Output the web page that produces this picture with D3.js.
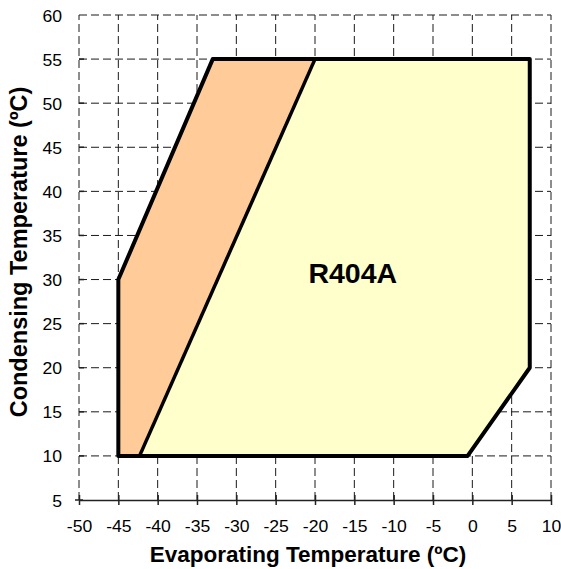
<!DOCTYPE html>
<html>
<head>
<meta charset="utf-8">
<script src="https://cdn.jsdelivr.net/npm/d3@7"></script>
<style>
  html, body { margin: 0; padding: 0; background: #fff; }
  svg { display: block; font-family: Arial, "Liberation Sans", sans-serif; }
</style>
</head>
<body>
<svg id="chart" width="561" height="569"></svg>
<script>
// Operating envelope of R404A (evaporating vs condensing temperature, °C)
const xTicks = [-50, -45, -40, -35, -30, -25, -20, -15, -10, -5, 0, 5, 10];
const yTicks = [5, 10, 15, 20, 25, 30, 35, 40, 45, 50, 55, 60];

// Extended low-temperature zone (orange)
const lowZoneEvap = [-45, -45, -33, -20, -42.3];
const lowZoneCond = [10, 30, 55, 55, 10];

// Standard zone (yellow)
const mainZoneEvap = [-42.3, -20, 7.3, 7.3, -0.6];
const mainZoneCond = [10, 55, 55, 20, 10];

// Overall envelope outline
const outlineEvap = [-45, -45, -33, 7.3, 7.3, -0.6];
const outlineCond = [10, 30, 55, 55, 20, 10];

// Divider between the two zones
const dividerEvap = [-20, -42.3];
const dividerCond = [55, 10];

const refrigerant = "R404A";

const svg = d3.select("#chart");
const margin = { left: 79, right: 10, top: 15, bottom: 69 };
const W = 561, H = 569;

const x = d3.scaleLinear().domain([-50, 10]).range([margin.left, W - margin.right]);
const y = d3.scaleLinear().domain([5, 60]).range([H - margin.bottom, margin.top]);

const pts = (xs, ys) => xs.map((v, i) => [x(v), y(ys[i])]);
const line = d3.line();
const fmt = d => String(d);   // plain hyphen for negatives
const tickFont = 16, tickStretch = 1.1;

// Dashed grid
const grid = svg.append("g").attr("stroke", "#1a1a1a").attr("stroke-width", 1)
  .attr("stroke-dasharray", "8,4").attr("fill", "none");
xTicks.forEach(t => {
  grid.append("line").attr("x1", x(t)).attr("x2", x(t))
    .attr("y1", y(5)).attr("y2", y(60));
});
yTicks.filter(t => t > 5).forEach(t => {
  grid.append("line").attr("x1", x(-50)).attr("x2", x(10))
    .attr("y1", y(t)).attr("y2", y(t));
});

// Zones
svg.append("path").attr("d", line(pts(lowZoneEvap, lowZoneCond)) + "Z")
  .attr("fill", "#FFCC99").attr("stroke", "none");
svg.append("path").attr("d", line(pts(mainZoneEvap, mainZoneCond)) + "Z")
  .attr("fill", "#FFFFCC").attr("stroke", "none");

svg.append("path").attr("d", line(pts(dividerEvap, dividerCond)))
  .attr("fill", "none").attr("stroke", "#000").attr("stroke-width", 3.5);
svg.append("path").attr("d", line(pts(outlineEvap, outlineCond)) + "Z")
  .attr("fill", "none").attr("stroke", "#000").attr("stroke-width", 4)
  .attr("stroke-linejoin", "round");

// X axis
const xAxis = svg.append("g").attr("transform", `translate(0,${y(5)})`)
  .call(d3.axisBottom(x).tickValues(xTicks).tickFormat(fmt).tickSize(5).tickSizeOuter(0));
xAxis.select(".domain").attr("stroke", "#222").attr("stroke-width", 1.5);
xAxis.selectAll(".tick line").attr("y1", -5).attr("stroke", "#222").attr("stroke-width", 1.5);
xAxis.selectAll("text")
  .attr("font-size", tickFont).attr("fill", "#000")
  .attr("font-family", "Arial, 'Liberation Sans', sans-serif")
  .attr("dy", null).attr("y", null)
  .attr("transform", `translate(0,32) scale(${tickStretch},1)`);

// Y axis (labels plus short ticks)
const yAxis = svg.append("g").attr("transform", `translate(${x(-50)},0)`)
  .call(d3.axisLeft(y).tickValues(yTicks).tickFormat(fmt).tickSize(0));
yAxis.select(".domain").remove();
yAxis.selectAll("text")
  .attr("font-size", tickFont).attr("fill", "#000")
  .attr("font-family", "Arial, 'Liberation Sans', sans-serif")
  .attr("x", null).attr("dy", null)
  .attr("transform", `translate(-17,6) scale(${tickStretch},1)`);
yTicks.filter(t => t > 5 && t < 60).forEach(t => {
  svg.append("line").attr("x1", x(-50)).attr("x2", x(-50) + 5)
    .attr("y1", y(t)).attr("y2", y(t)).attr("stroke", "#222").attr("stroke-width", 1.5);
});
svg.append("line").attr("x1", x(-50) - 4).attr("x2", x(-50) + 4)
  .attr("y1", y(5)).attr("y2", y(5)).attr("stroke", "#222").attr("stroke-width", 1.5);

// Zone label
svg.append("text").attr("x", x(-15.2)).attr("y", y(29.6))
  .attr("text-anchor", "middle")
  .attr("font-size", 28.5).attr("font-weight", "bold").text(refrigerant);

// Axis titles
svg.append("text").attr("x", 308).attr("y", 562)
  .attr("text-anchor", "middle").attr("font-size", 22.5).attr("font-weight", "bold")
  .text("Evaporating Temperature (ºC)");
svg.append("text").attr("transform", `translate(27,252) rotate(-90)`)
  .attr("text-anchor", "middle").attr("font-size", 23.5).attr("font-weight", "bold")
  .text("Condensing Temperature (ºC)");
</script>
</body>
</html>
